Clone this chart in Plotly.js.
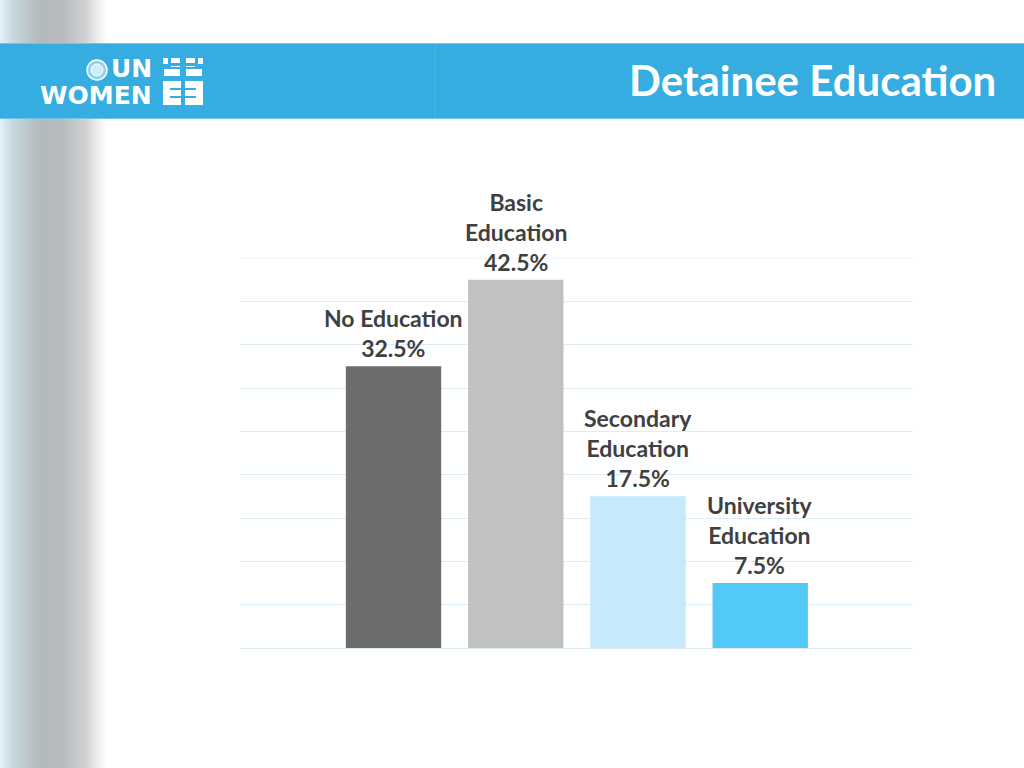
<!DOCTYPE html>
<html>
<head>
<meta charset="utf-8">
<script src="https://cdn.plot.ly/plotly-3.0.1.min.js"></script>
<style>
  html, body { margin: 0; padding: 0; background: #ffffff; }
  #wrap {
    position: relative; width: 1024px; height: 768px;
    background: linear-gradient(to right, #e4f2fb 0px, #c9d8e1 12px, #b4b9bc 40px, #b8bcbe 62px, #cfd0d1 85px, #f2f2f2 100px, #ffffff 108px);
  }
  #chart { width: 1024px; height: 768px; }
</style>
</head>
<body>
<div id="wrap"><div id="chart"></div></div>
<script>
// ---- data ----
const categories = ['No Education', 'Basic Education', 'Secondary Education', 'University Education'];
const labelLines = ['No Education', 'Basic<br>Education', 'Secondary<br>Education', 'University<br>Education'];
const values = [32.5, 42.5, 17.5, 7.5];
const barColors = ['#6d6d6d', '#c1c1c1', '#c6eafb', '#52c9f7'];
const yMax = 45;

// ---- geometry helpers (plot area 240..913 x, 258..648 y) ----
const L = 240, R = 913, T = 258, B = 648;
const px = p => (p - L) / (R - L);
const py = p => (B - p) / (B - T);
const HDR = '#35ade0';

const trace = {
  type: 'bar',
  x: categories,
  y: values,
  marker: { color: barColors, line: { width: 0 } },
  hoverinfo: 'skip',
  showlegend: false
};

const annotations = categories.map((c, i) => ({
  x: c, y: values[i], xref: 'x', yref: 'y',
  text: labelLines[i] + '<br>' + values[i].toFixed(1) + '%',
  showarrow: false, yanchor: 'bottom', yshift: 2,
  font: { family: 'Lato, "Open Sans", sans-serif', size: 23, color: '#404040', weight: 'bold' }
}));

// logo text
annotations.push({
  xref: 'paper', yref: 'paper', x: px(154), y: py(69), xanchor: 'right', yanchor: 'middle',
  text: '<b>UN</b>', showarrow: false,
  font: { family: '"DejaVu Sans", sans-serif', size: 25, color: '#ffffff' }
});
annotations.push({
  xref: 'paper', yref: 'paper', x: px(154), y: py(96), xanchor: 'right', yanchor: 'middle',
  text: '<b>WOMEN</b>', showarrow: false,
  font: { family: '"DejaVu Sans", sans-serif', size: 25, color: '#ffffff' }
});

function rect(x0, x1, y0, y1, color) {
  return { type: 'rect', xref: 'paper', yref: 'paper', x0: px(x0), x1: px(x1), y0: py(y1), y1: py(y0),
    fillcolor: color, line: { width: 0 }, layer: 'above' };
}

const shapes = [
  // top gridline (Plotly hides the grid line that sits on the plot edge)
  { type: 'line', xref: 'paper', yref: 'y', x0: 0, x1: 1, y0: yMax, y1: yMax,
    line: { color: '#dcedf7', width: 1 }, layer: 'below' },
  // header band
  Object.assign(rect(0, 1024, 43, 119, HDR), { layer: 'below' }),
  { type: 'line', xref: 'paper', yref: 'paper', x0: px(0), x1: px(1024), y0: py(43.5), y1: py(43.5),
    line: { color: '#6cc6ec', width: 1 }, layer: 'below' },
  { type: 'line', xref: 'paper', yref: 'paper', x0: px(0), x1: px(1024), y0: py(118.5), y1: py(118.5),
    line: { color: '#6cc6ec', width: 1 }, layer: 'below' },
  { type: 'line', xref: 'paper', yref: 'paper', x0: px(435), x1: px(435), y0: py(118), y1: py(44),
    line: { color: '#4ab7e4', width: 1 }, layer: 'below' },
  // UN globe
  { type: 'circle', xref: 'paper', yref: 'paper', x0: px(87), x1: px(107), y0: py(80), y1: py(60),
    fillcolor: 'rgba(255,255,255,0.45)', line: { color: '#ffffff', width: 1.5 }, layer: 'above' },
  { type: 'circle', xref: 'paper', yref: 'paper', x0: px(91), x1: px(103), y0: py(76), y1: py(64),
    fillcolor: 'rgba(255,255,255,0.6)', line: { color: '#ffffff', width: 1 }, layer: 'above' },
  // emblem: two E blocks
  rect(163, 181, 81, 105, '#ffffff'),
  rect(185, 203, 81, 105, '#ffffff'),
  rect(170, 181, 88, 90, HDR),
  rect(170, 181, 96, 98, HDR),
  rect(185, 196, 88, 90, HDR),
  rect(185, 196, 96, 98, HDR),
  // emblem top marks
  rect(163, 168, 58, 64, '#ffffff'),
  rect(171, 180, 58, 63, '#ffffff'),
  rect(186, 195, 58, 63, '#ffffff'),
  rect(198, 203, 58, 64, '#ffffff'),
  rect(164, 180, 69, 76, '#ffffff'),
  rect(186, 202, 69, 76, '#ffffff'),
  rect(171, 180, 66, 67, '#ffffff'),
  rect(186, 195, 66, 67, '#ffffff')
];

const layout = {
  width: 1024, height: 768,
  margin: { l: L, r: 1024 - R, t: T, b: 768 - B, pad: 0 },
  paper_bgcolor: 'rgba(0,0,0,0)',
  plot_bgcolor: 'rgba(0,0,0,0)',
  title: {
    text: '<b>Detainee Education</b>',
    x: 629 / 1024, xanchor: 'left', xref: 'container',
    y: 1 - 81 / 768, yanchor: 'middle', yref: 'container',
    font: { family: 'Lato, "Open Sans", sans-serif', size: 42, color: '#ffffff' }
  },
  xaxis: {
    type: 'category', range: [-1.256, 4.25],
    showticklabels: false, ticks: '', showgrid: false, zeroline: false, showline: false, fixedrange: true
  },
  yaxis: {
    range: [0, yMax], dtick: 5, tick0: 0,
    showticklabels: false, ticks: '', showgrid: true, gridcolor: '#dcedf7', gridwidth: 1,
    zeroline: true, zerolinecolor: '#dcedf7', zerolinewidth: 1, showline: false, fixedrange: true
  },
  bargap: 0.22,
  shapes: shapes,
  annotations: annotations,
  showlegend: false
};

Plotly.newPlot('chart', [trace], layout, { displayModeBar: false, staticPlot: true });
</script>
</body>
</html>
